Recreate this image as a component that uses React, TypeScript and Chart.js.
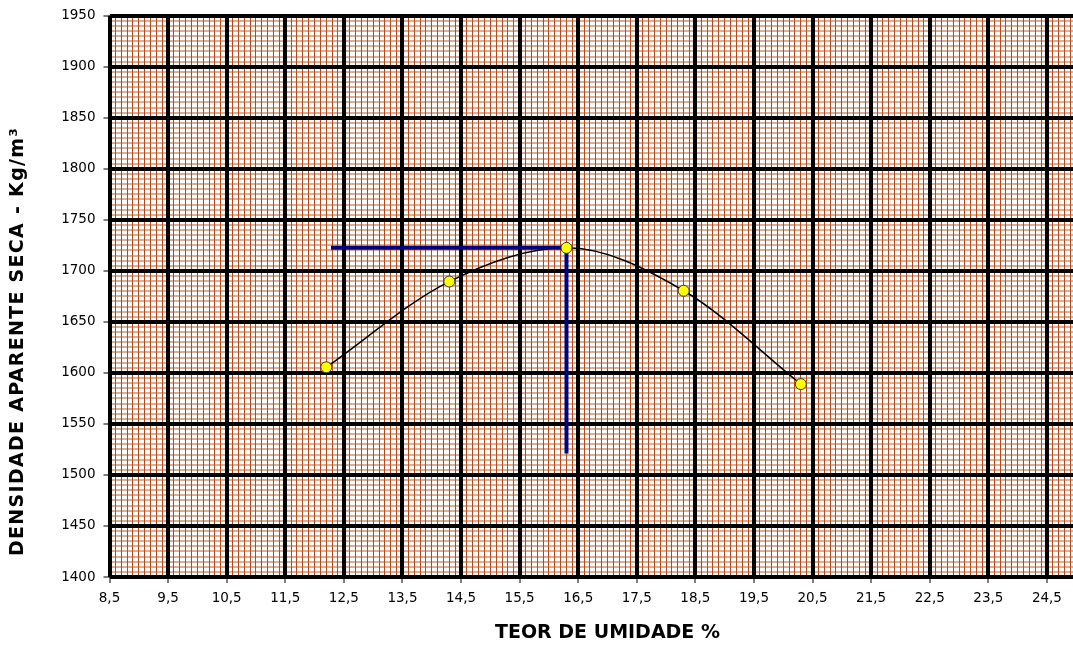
import React, { useEffect, useRef } from "react";
import { Chart, registerables } from "chart.js";

Chart.register(...registerables);

// ---- data ----
const moisture = [12.2, 14.3, 16.3, 18.3, 20.3];
const density = [1605.5, 1689.5, 1722.5, 1680.5, 1589];
const optimumMoisture = 16.3;
const maxDensity = 1722.5;
const guideStartX = 12.28;
const guideEndY = 1521;

const xTickValues = [8.5, 9.5, 10.5, 11.5, 12.5, 13.5, 14.5, 15.5, 16.5, 17.5, 18.5, 19.5, 20.5, 21.5, 22.5, 23.5, 24.5, 25.5];
const yTickValues = [1400, 1450, 1500, 1550, 1600, 1650, 1700, 1750, 1800, 1850, 1900, 1950];
const xMin = 8.5;
const xMax = 25.5;
const yMin = 1400;
const yMax = 1950;
const xMinorStep = 0.1;
const yMinorStep = 5;

const xTitle = "TEOR DE UMIDADE %";
const yTitle = "DENSIDADE APARENTE SECA - Kg/m³";

function minorTicks(min: number, max: number, step: number) {
  const out: { value: number }[] = [];
  const n = Math.round((max - min) / step);
  for (let i = 0; i <= n; i++) out.push({ value: Math.round((min + i * step) * 1000) / 1000 });
  return out;
}

const yTitlePlugin = {
  id: "yTitlePlugin",
  afterDraw(chart: any) {
    const ctx = chart.ctx;
    ctx.save();
    ctx.translate(18, 341.5);
    ctx.rotate(-Math.PI / 2);
    ctx.textAlign = "center";
    ctx.textBaseline = "middle";
    ctx.fillStyle = "#000000";
    ctx.font = 'bold 19px "DejaVu Sans"';
    try {
      (ctx as any).letterSpacing = "1.3px";
    } catch (e) {}
    ctx.fillText(yTitle, 0, 0);
    ctx.restore();
  },
};

export default function App() {
  const ref = useRef<HTMLCanvasElement | null>(null);

  useEffect(() => {
    if (!ref.current) return;
    const tickFont = { family: "DejaVu Sans", size: 13.5 };
    const titleFont = { family: "DejaVu Sans", size: 19, weight: "bold" as const };
    const chart = new Chart(ref.current, {
      type: "scatter",
      plugins: [yTitlePlugin],
      data: {
        datasets: [
          {
            type: "line",
            label: "Curva",
            data: moisture.map((x, i) => ({ x, y: density[i] })),
            borderColor: "#000000",
            borderWidth: 1.5,
            pointRadius: 0,
            cubicInterpolationMode: "monotone",
            fill: false,
            order: 3,
          } as any,
          {
            type: "line",
            label: "Guia",
            data: [
              { x: guideStartX, y: maxDensity },
              { x: optimumMoisture, y: maxDensity },
              { x: optimumMoisture, y: guideEndY },
            ],
            borderColor: "#000080",
            borderWidth: 4,
            pointRadius: 0,
            tension: 0,
            fill: false,
            borderJoinStyle: "miter",
            order: 2,
          } as any,
          {
            type: "scatter",
            label: "Pontos",
            data: moisture.map((x, i) => ({ x, y: density[i] })),
            backgroundColor: "#ffff00",
            borderColor: "#333333",
            borderWidth: 1,
            pointRadius: 5.5,
            order: 1,
          } as any,
        ],
      },
      options: {
        animation: false,
        responsive: false,
        maintainAspectRatio: false,
        layout: { padding: { top: 15.7, right: 1, bottom: 0, left: 0 } },
        plugins: { legend: { display: false }, tooltip: { enabled: false } },
        scales: {
          x: {
            type: "linear",
            position: "bottom",
            min: xMin,
            max: xMax,
            afterBuildTicks: (s: any) => {
              s.ticks = xTickValues.map((v) => ({ value: v }));
            },
            afterFit: (s: any) => {
              s.height = 69;
              s.paddingLeft = 0;
              s.paddingRight = 0;
            },
            ticks: {
              font: tickFont,
              color: "#000000",
              padding: 7,
              autoSkip: false,
              maxRotation: 0,
              callback: (v: any) => String(v).replace(".", ","),
            },
            grid: {
              color: "#000000",
              lineWidth: 4,
              drawTicks: true,
              tickLength: 6,
              tickWidth: 1,
              tickColor: "#000000",
              z: -1,
            },
            border: { display: false },
            title: {
              display: true,
              text: xTitle,
              font: titleFont,
              color: "#000000",
              padding: { top: 0, bottom: 1.6 },
            },
          },
          y: {
            type: "linear",
            position: "left",
            min: yMin,
            max: yMax,
            afterBuildTicks: (s: any) => {
              s.ticks = yTickValues.map((v) => ({ value: v }));
            },
            afterFit: (s: any) => {
              s.width = 109.5;
              s.paddingTop = 0;
              s.paddingBottom = 0;
            },
            ticks: {
              font: tickFont,
              color: "#000000",
              padding: 8,
              autoSkip: false,
              callback: (v: any) => String(v),
            },
            grid: {
              color: "#000000",
              lineWidth: 4,
              drawTicks: true,
              tickLength: 6,
              tickWidth: 1,
              tickColor: "#000000",
              z: -1,
            },
            border: { display: false },
            title: { display: false },
          },
          xMinor: {
            type: "linear",
            position: "bottom",
            min: xMin,
            max: xMax,
            afterBuildTicks: (s: any) => {
              s.ticks = minorTicks(xMin, xMax, xMinorStep);
            },
            afterFit: (s: any) => {
              s.height = 0;
              s.paddingLeft = 0;
              s.paddingRight = 0;
            },
            ticks: { display: false },
            grid: { color: "rgb(184, 72, 24)", lineWidth: 1, drawTicks: false, z: -2 },
            border: { display: false },
          },
          yMinor: {
            type: "linear",
            position: "left",
            min: yMin,
            max: yMax,
            afterBuildTicks: (s: any) => {
              s.ticks = minorTicks(yMin, yMax, yMinorStep);
            },
            afterFit: (s: any) => {
              s.width = 0;
              s.paddingTop = 0;
              s.paddingBottom = 0;
            },
            ticks: { display: false },
            grid: { color: "rgba(196, 120, 80, 0.6)", lineWidth: 2, drawTicks: false, z: -3 },
            border: { display: false },
          },
        },
      } as any,
    });
    return () => chart.destroy();
  }, []);

  return (
    <div
      style={{
        position: "absolute",
        left: 0,
        top: 0,
        width: 1073,
        height: 646,
        overflow: "hidden",
        background: "#ffffff",
      }}
    >
      <canvas ref={ref} width={1112} height={646} style={{ display: "block", width: 1112, height: 646 }} />
    </div>
  );
}
